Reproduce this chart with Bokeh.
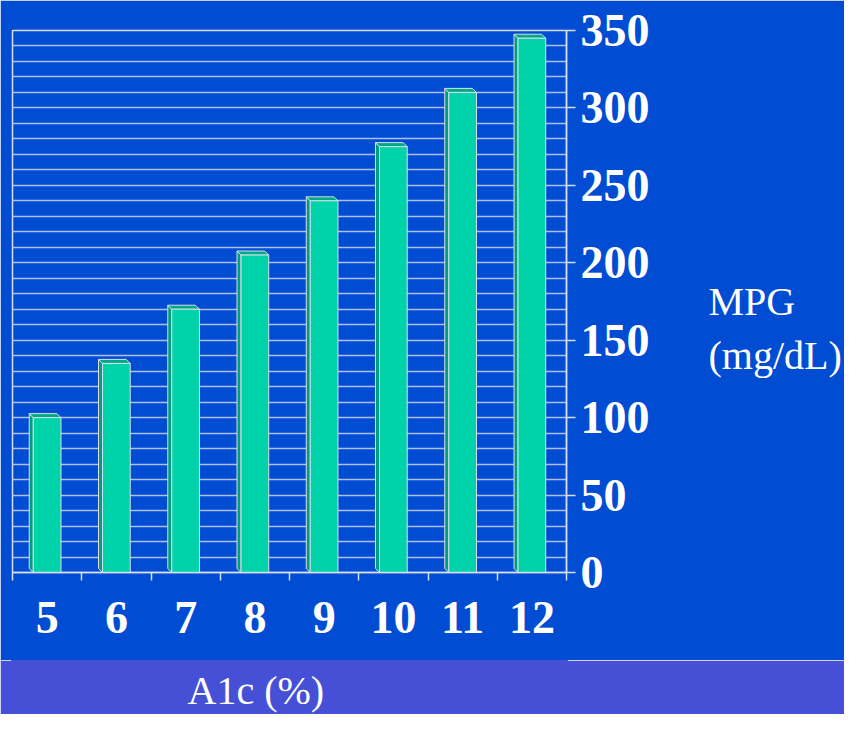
from bokeh.plotting import figure
from bokeh.models import LinearAxis, FixedTicker, Range1d, Label, ColumnDataSource, Plot
from bokeh.layouts import column
from bokeh.embed import file_html
from bokeh.resources import INLINE

# ---- data ----
a1c = [5, 6, 7, 8, 9, 10, 11, 12]
mpg = [100, 135, 170, 205, 240, 275, 310, 345]
y_ticks = [0, 50, 100, 150, 200, 250, 300, 350]
grid_ticks = list(range(0, 351, 10))
y_title = "\nMPG\n(mg/dL)"
x_title = "A1c (%)"

# ---- style ----
BG = "#004CD3"
BAND = "#4650D6"
FRONT = "#00D2AA"
SIDE = "#009E7E"
TOP = "#00A986"
EDGE = "#D8DEEA"
GRID = "#AEBFEE"
SERIF = "Liberation Serif"
BAR_W = 0.4
DX = 0.058   # 3D depth in x (data units)
DY = 2.6     # 3D depth in y (data units)

p = figure(width=844, height=660,
           x_range=Range1d(4.5, 12.5), y_range=Range1d(0, 350),
           output_backend="svg", toolbar_location=None,
           x_axis_location=None, y_axis_location="right",
           min_border_left=12, min_border_top=30,
           min_border_right=276, min_border_bottom=88,
           background_fill_color=BG, border_fill_color=BG,
           outline_line_color=EDGE, outline_line_width=1.5)

# right y axis
ya = p.yaxis[0]
ya.ticker = FixedTicker(ticks=y_ticks, minor_ticks=[])
ya.axis_line_color = EDGE
ya.axis_line_width = 1.5
ya.major_tick_line_color = EDGE
ya.major_tick_line_width = 1.5
ya.major_tick_out = 9
ya.major_tick_in = 0
ya.minor_tick_line_color = None
ya.major_label_standoff = 5
ya.major_label_text_font = SERIF
ya.major_label_text_font_style = "bold"
ya.major_label_text_font_size = "46px"
ya.major_label_text_color = "white"
ya.axis_label = y_title
ya.axis_label_orientation = "horizontal"
ya.axis_label_standoff = 56
ya.axis_label_text_font = SERIF
ya.axis_label_text_font_style = "normal"
ya.axis_label_text_font_size = "40px"
ya.axis_label_text_color = "white"
ya.axis_label_text_align = "left"

p.ygrid.ticker = FixedTicker(ticks=grid_ticks)
p.ygrid.grid_line_color = GRID
p.ygrid.grid_line_width = 1.5
p.xgrid.visible = False

# x axis 1: boundary tick marks
bounds = [a - 0.5 for a in a1c] + [a1c[-1] + 0.5]
xa1 = LinearAxis(ticker=FixedTicker(ticks=bounds, minor_ticks=[]))
xa1.axis_line_color = EDGE
xa1.axis_line_width = 1.5
xa1.major_tick_line_color = EDGE
xa1.major_tick_line_width = 1.5
xa1.major_tick_out = 8
xa1.major_tick_in = 0
xa1.minor_tick_line_color = None
xa1.major_label_text_color = None
xa1.major_label_text_font_size = "1px"
xa1.major_label_standoff = 0
p.add_layout(xa1, "below")

# x axis 2: category labels
xa2 = LinearAxis(ticker=FixedTicker(ticks=a1c, minor_ticks=[]))
xa2.axis_line_color = None
xa2.major_tick_line_color = None
xa2.major_tick_out = 0
xa2.major_tick_in = 0
xa2.minor_tick_line_color = None
xa2.major_label_standoff = 21
xa2.major_label_text_font = SERIF
xa2.major_label_text_font_style = "bold"
xa2.major_label_text_font_size = "46px"
xa2.major_label_text_color = "white"
p.add_layout(xa2, "below")

# ---- 3D bars ----
side_xs, side_ys, top_xs, top_ys = [], [], [], []
for x, v in zip(a1c, mpg):
    l = x - BAR_W / 2
    r = x + BAR_W / 2
    side_xs.append([l, l, l - DX, l - DX])
    side_ys.append([0, v, v + DY, DY])
    top_xs.append([l, r, r - DX, l - DX])
    top_ys.append([v, v, v + DY, v + DY])

p.patches(side_xs, side_ys, fill_color=SIDE, line_color=EDGE, line_width=1)
p.patches(top_xs, top_ys, fill_color=TOP, line_color=EDGE, line_width=1)
src = ColumnDataSource(dict(x=a1c, top=mpg))
p.vbar(x="x", top="top", bottom=0, width=BAR_W, source=src,
       fill_color=FRONT, line_color=EDGE, line_width=1)

# ---- bottom band (plain Plot: no axes, no grids) ----
b = Plot(width=844, height=54, x_range=Range1d(0, 1), y_range=Range1d(0, 1),
         output_backend="svg", toolbar_location=None,
         min_border=0, min_border_left=0, min_border_right=0,
         min_border_top=0, min_border_bottom=0,
         background_fill_color=BAND, border_fill_color=BAND,
         outline_line_color=BAND, outline_line_width=3)
b.add_layout(Label(x=175, y=0.45, x_units="screen", y_units="data", text=x_title,
                   text_font=SERIF, text_font_size="40px", text_color="white",
                   text_align="left", text_baseline="middle"))

layout = column(p, b, spacing=0)
open("out.html", "w").write(file_html(layout, INLINE))
